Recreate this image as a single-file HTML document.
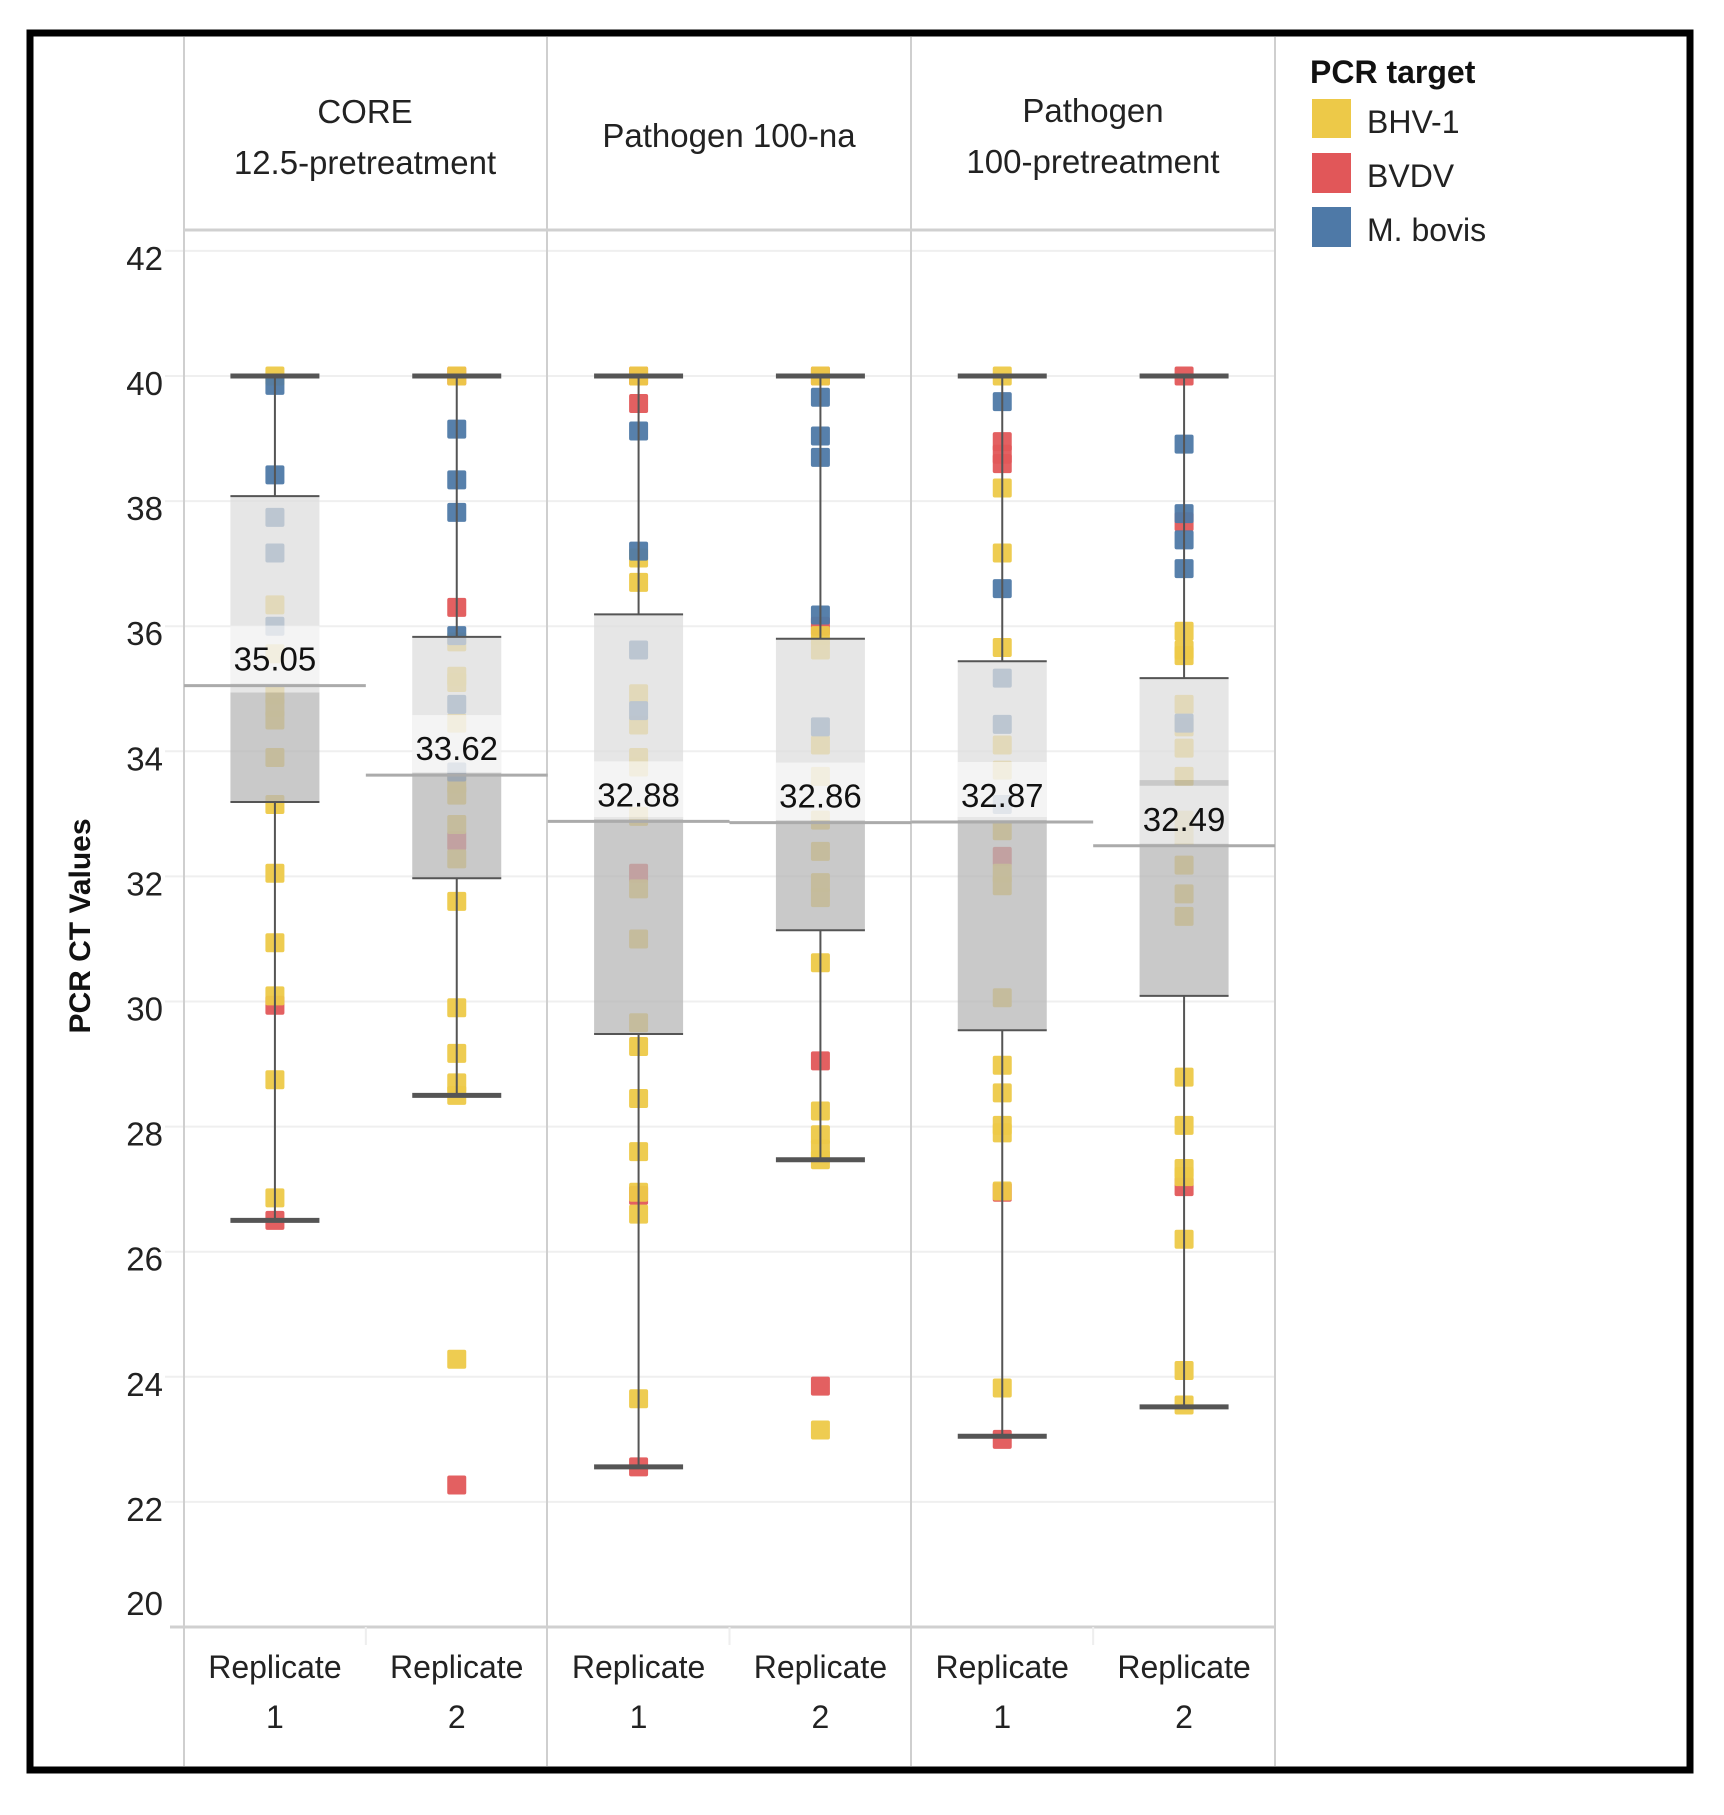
<!DOCTYPE html>
<html><head><meta charset="utf-8"><style>
html,body{margin:0;padding:0;background:#fff;}
svg{display:block;font-family:"Liberation Sans",sans-serif;}
</style></head><body>
<svg id="chart" width="1724" height="1815" viewBox="0 0 1724 1815" xmlns="http://www.w3.org/2000/svg">
<rect x="30" y="33" width="1660" height="1737" fill="#fff" stroke="#000" stroke-width="7"/>
<g id="grid"></g>
<g id="frame"></g>
<g id="points"></g>
<g id="boxes"></g>
<g id="labels"></g>
<g font-size="33" fill="#222" text-anchor="middle">
<text x="365" y="123">CORE</text>
<text x="365" y="174">12.5-pretreatment</text>
<text x="729" y="147">Pathogen 100-na</text>
<text x="1093" y="122">Pathogen</text>
<text x="1093" y="173">100-pretreatment</text>
</g>
<text transform="translate(90,926) rotate(-90)" text-anchor="middle" font-size="30" font-weight="bold" fill="#111">PCR CT Values</text>
<g>
<text x="1310" y="83" font-size="32" font-weight="bold" fill="#111">PCR target</text>
<rect x="1312" y="99" width="39" height="39" fill="#EDC948"/>
<text x="1367" y="133" font-size="32" fill="#222">BHV-1</text>
<rect x="1312" y="153" width="39" height="40" fill="#E15759"/>
<text x="1367" y="187" font-size="32" fill="#222">BVDV</text>
<rect x="1312" y="207" width="39" height="40" fill="#4E79A7"/>
<text x="1367" y="241" font-size="32" fill="#222">M. bovis</text>
</g>
</svg>
<script>
const yTicks = [20,22,24,26,28,30,32,34,36,38,40,42];
const columns = ["C1R1","C1R2","P2R1","P2R2","P3R1","P3R2"];
const lowWhisker = [26.5,28.5,22.56,27.47,23.05,23.52];
const q1 = [33.19,31.97,29.48,31.14,29.54,30.09];
const medians = [34.94,33.67,32.95,32.9,32.95,33.54];
const q3 = [38.08,35.83,36.19,35.8,35.44,35.17];
const highWhisker = [40,40,40,40,40,40];
const means = [35.05,33.62,32.88,32.86,32.87,32.49];
const meanLabels = ["35.05","33.62","32.88","32.86","32.87","32.49"];
const bhv1 = [
 [40,36.34,35.56,34.9,34.7,34.5,33.9,33.15,32.05,30.94,30.09,28.75,26.86],
 [40,35.75,35.2,35.1,34.45,33.48,33.3,32.83,32.28,31.6,29.9,29.17,28.7,28.5,24.28],
 [40,37.09,36.7,34.92,34.42,33.9,33.75,32.96,31.8,31.0,29.66,29.28,28.45,27.6,26.95,26.6,23.65],
 [40,35.85,35.62,34.1,33.6,32.9,32.4,31.9,31.66,30.62,28.25,27.87,27.64,27.47,23.15],
 [40,38.21,37.17,35.66,34.1,33.7,32.73,32.05,31.85,30.06,28.98,28.54,28.02,27.9,26.97,23.82],
 [35.92,35.62,35.53,34.75,34.39,34.05,33.6,32.9,32.63,32.18,31.72,31.36,28.79,28.02,27.33,27.2,26.2,24.1,23.55]
];
const bvdv = [
 [29.94,26.5],
 [40,36.3,32.57,22.27],
 [40,39.56,32.05,26.9,22.56],
 [40,36.0,29.05,23.85],
 [38.95,38.75,38.6,32.32,26.95,23.0],
 [40,37.67,27.04]
];
const mbovis = [
 [39.85,38.42,37.74,37.17,36.0],
 [39.15,38.34,37.82,35.85,34.75,33.67],
 [39.12,37.2,35.62,34.65],
 [39.66,39.04,38.7,36.18,34.39],
 [39.59,36.6,35.17,34.43,33.15],
 [38.91,37.8,37.38,36.92,34.45]
];

const NS = "http://www.w3.org/2000/svg";
const plotLeft = 184, plotRight = 1275, colW = (plotRight - plotLeft) / columns.length;
function y(v){ return 376 + (40 - v) * 62.55; }
function xc(i){ return plotLeft + colW * (i + 0.5); }
function mk(parent, tag, attrs){
  const e = document.createElementNS(NS, tag);
  for (const k in attrs) e.setAttribute(k, attrs[k]);
  parent.appendChild(e);
  return e;
}
const grid = document.getElementById('grid');
const frame = document.getElementById('frame');
const pts = document.getElementById('points');
const boxes = document.getElementById('boxes');
const labels = document.getElementById('labels');

yTicks.forEach(t => {
  if (t > 20) {
    const g = mk(grid, 'line', {x1: 165, x2: plotRight, y1: y(t), y2: y(t), stroke: '#efefef', 'stroke-width': 2});
    
    
  }
  const ly = t === 20 ? y(t) - 12 : y(t) + 19;
  const tx = mk(grid, 'text', {x: 163, y: ly, 'text-anchor': 'end', 'font-size': 33, fill: '#222'});
  tx.textContent = t;
  
  
});

[184, 547, 911, 1275].forEach((x, i) => {
  const l = mk(frame, 'line', {x1: x, x2: x, y1: 37, y2: 1766, stroke: '#cfcfcf', 'stroke-width': 2});
  
  
});
const hb = mk(frame, 'line', {x1: 184, x2: 1275, y1: 230, y2: 230, stroke: '#d0d0d0', 'stroke-width': 3});


const ax = mk(frame, 'line', {x1: 170, x2: 1275, y1: y(20), y2: y(20), stroke: '#d0d0d0', 'stroke-width': 3});



const colors = {bhv1: '#EDC948', bvdv: '#E15759', mbovis: '#4E79A7'};
function drawPts(arr, key){
  arr.forEach((vals, i) => {
    vals.forEach(v => {
      const r = mk(pts, 'rect', {x: xc(i) - 9.5, y: y(v) - 9.5, width: 19, height: 19, rx: 2, fill: colors[key], opacity: 0.95});
      
      
    });
  });
}
drawPts(bvdv, 'bvdv');
drawPts(bhv1, 'bhv1');
drawPts(mbovis, 'mbovis');

const bw = 89;
columns.forEach((c, i) => {
  const x = xc(i), x0 = x - bw / 2;
  const up = mk(boxes, 'rect', {x: x0, y: y(q3[i]), width: bw, height: y(medians[i]) - y(q3[i]), fill: '#dedede', 'fill-opacity': 0.75});
  
  
  const lo = mk(boxes, 'rect', {x: x0, y: y(medians[i]), width: bw, height: y(q1[i]) - y(medians[i]), fill: '#b7b7b7', 'fill-opacity': 0.75});
  
  
  const w1 = mk(boxes, 'line', {x1: x, x2: x, y1: y(highWhisker[i]), y2: y(q3[i]), stroke: '#555', 'stroke-width': 2});
  
  
  const w2 = mk(boxes, 'line', {x1: x, x2: x, y1: y(q1[i]), y2: y(lowWhisker[i]), stroke: '#555', 'stroke-width': 2});
  
  
  [q3[i], q1[i]].forEach(v => {
    const e = mk(boxes, 'line', {x1: x0, x2: x0 + bw, y1: y(v), y2: y(v), stroke: '#555', 'stroke-width': 2});
    
    
  });
  [highWhisker[i], lowWhisker[i]].forEach(v => {
    const e = mk(boxes, 'line', {x1: x0, x2: x0 + bw, y1: y(v), y2: y(v), stroke: '#555', 'stroke-width': 5});
    
    
  });
  const ml = mk(labels, 'line', {x1: plotLeft + colW * i, x2: plotLeft + colW * (i + 1), y1: y(means[i]), y2: y(means[i]), stroke: '#ababab', 'stroke-width': 3});
  
  
  const bg = mk(labels, 'rect', {x: x0, y: y(means[i]) - 60, width: bw, height: 58, fill: '#fff', 'fill-opacity': 0.55});
  
  
  const t = mk(labels, 'text', {x: x, y: y(means[i]) - 15, 'text-anchor': 'middle', 'font-size': 33, fill: '#111'});
  t.textContent = meanLabels[i];
  
  
  const r1 = mk(labels, 'text', {x: x, y: 1678, 'text-anchor': 'middle', 'font-size': 32, fill: '#222'});
  r1.textContent = 'Replicate';
  
  
  const r2 = mk(labels, 'text', {x: x, y: 1728, 'text-anchor': 'middle', 'font-size': 32, fill: '#222'});
  r2.textContent = (i % 2) + 1;
  
  
  if (i % 2 === 0) {
    const tk = mk(frame, 'line', {x1: plotLeft + colW * (i + 1), x2: plotLeft + colW * (i + 1), y1: y(20), y2: y(20) + 18, stroke: '#eee', 'stroke-width': 2});
    
    
  }
});
</script>
</body></html>
